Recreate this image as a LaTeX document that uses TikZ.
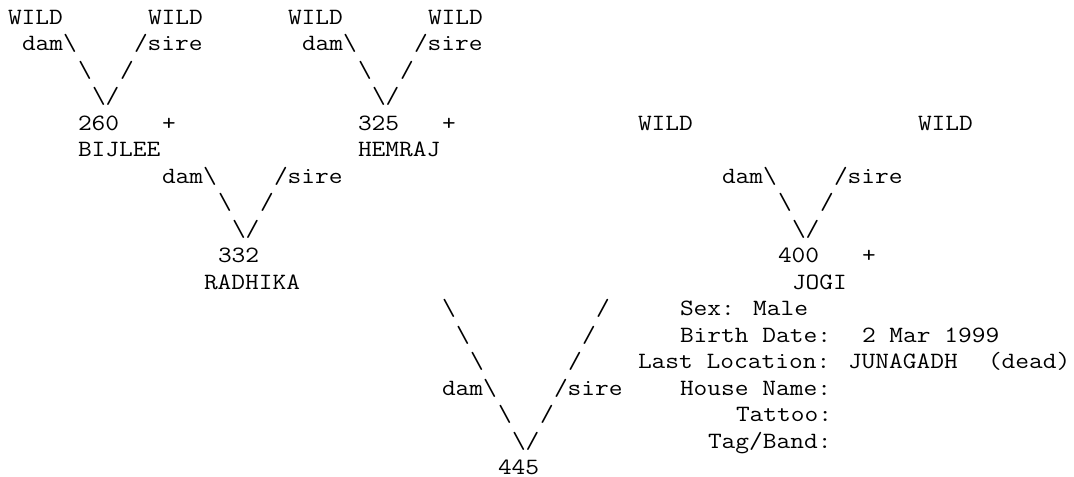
\documentclass[tikz,border=0pt]{standalone}
\usepackage{fontspec}
\newfontfamily\pedmono[FakeStretch=1.1429]{Latin Modern Mono}
\newcommand\pn[4]{\node[ascii] (#1) at ({8+14*(#2)},{24.5+26.47*(#3)}) {#4};}
\newcommand\bs{\textbackslash}
\begin{document}
\begin{tikzpicture}[x=0.75pt,y=-0.75pt,
  ascii/.style={inner sep=0pt, outer sep=0pt, anchor=base west,
    font=\pedmono\fontsize{17.5pt}{21pt}\selectfont, text=black}]
\useasboundingbox (0,0) rectangle (1074,477);
% row 0
\pn{w1}{0}{0}{WILD}
\pn{w2}{10}{0}{WILD}
\pn{w3}{20}{0}{WILD}
\pn{w4}{30}{0}{WILD}
% row 1
\pn{d1}{1}{1}{dam\bs}
\pn{s1}{9}{1}{/sire}
\pn{d2}{21}{1}{dam\bs}
\pn{s2}{29}{1}{/sire}
% row 2
\pn{d1a}{5}{2}{\bs}
\pn{s1a}{8}{2}{/}
\pn{d2a}{25}{2}{\bs}
\pn{s2a}{28}{2}{/}
% row 3
\pn{v1}{6}{3}{\bs/}
\pn{v2}{26}{3}{\bs/}
% row 4
\pn{n260}{5}{4}{260}
\pn{p260}{11}{4}{+}
\pn{n325}{25}{4}{325}
\pn{p325}{31}{4}{+}
\pn{w5}{45}{4}{WILD}
\pn{w6}{65}{4}{WILD}
% row 5
\pn{bijlee}{5}{5}{BIJLEE}
\pn{hemraj}{25}{5}{HEMRAJ}
% row 6
\pn{d3}{11}{6}{dam\bs}
\pn{s3}{19}{6}{/sire}
\pn{d4}{51}{6}{dam\bs}
\pn{s4}{59}{6}{/sire}
% row 7
\pn{d3a}{15}{7}{\bs}
\pn{s3a}{18}{7}{/}
\pn{d4a}{55}{7}{\bs}
\pn{s4a}{58}{7}{/}
% row 8
\pn{v3}{16}{8}{\bs/}
\pn{v4}{56}{8}{\bs/}
% row 9
\pn{n332}{15}{9}{332}
\pn{n400}{55}{9}{400}
\pn{p400}{61}{9}{+}
% row 10
\pn{radhika}{14}{10}{RADHIKA}
\pn{jogi}{56}{10}{JOGI}
% rows 11-17: bottom tree and details
\pn{d5a}{31}{11}{\bs}
\pn{s5a}{42}{11}{/}
\pn{sex}{48}{11}{Sex: Male}
\pn{d5b}{32}{12}{\bs}
\pn{s5b}{41}{12}{/}
\pn{birthl}{48}{12}{Birth Date:}
\pn{birthv}{61}{12}{2 Mar 1999}
\pn{d5c}{33}{13}{\bs}
\pn{s5c}{40}{13}{/}
\pn{locl}{45}{13}{Last Location:}
\pn{locv}{60}{13}{JUNAGADH}
\pn{dead}{70}{13}{(dead)}
\pn{d5}{31}{14}{dam\bs}
\pn{s5}{39}{14}{/sire}
\pn{house}{48}{14}{House Name:}
\pn{d5d}{35}{15}{\bs}
\pn{s5d}{38}{15}{/}
\pn{tattoo}{52}{15}{Tattoo:}
\pn{v5}{36}{16}{\bs/}
\pn{tag}{50}{16}{Tag/Band:}
\pn{n445}{35}{17}{445}
\end{tikzpicture}
\end{document}
